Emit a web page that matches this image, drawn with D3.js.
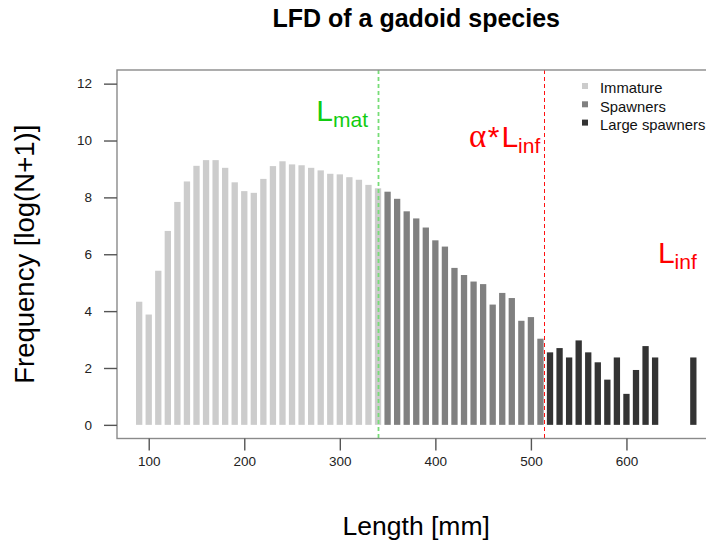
<!DOCTYPE html>
<html>
<head>
<meta charset="utf-8">
<script src="https://cdn.jsdelivr.net/npm/d3@7"></script>
<style>
  body { margin: 0; background: #ffffff; }
  svg { font-family: "Liberation Sans", Arial, sans-serif; }
</style>
</head>
<body>
<div id="chart"></div>
<script>
// length classes (mm) and log(N+1) frequencies
var immature_len = [90, 100, 110, 120, 130, 140, 150, 160, 170, 180, 190, 200, 210,
                    220, 230, 240, 250, 260, 270, 280, 290, 300, 310, 320, 330, 340];
var immature_val = [4.33, 3.88, 5.42, 6.82, 7.84, 8.56, 9.11, 9.31, 9.31, 9.04, 8.53, 8.22, 8.16,
                    8.65, 9.10, 9.27, 9.16, 9.13, 9.04, 8.95, 8.83, 8.81, 8.71, 8.62, 8.44, 8.32];
var spawner_len  = [350, 360, 370, 380, 390, 400, 410, 420, 430, 440, 450, 460, 470, 480, 490, 500, 510];
var spawner_val  = [8.20, 7.95, 7.51, 7.26, 6.94, 6.49, 6.27, 5.52, 5.27, 5.04, 4.95, 4.23, 4.64,
                    4.46, 3.66, 3.79, 3.03];
var large_len    = [520, 530, 540, 550, 560, 570, 580, 590, 600, 610, 620, 630, 670];
var large_val    = [2.55, 2.70, 2.37, 2.97, 2.55, 2.20, 1.59, 2.37, 1.09, 1.93, 2.77, 2.37, 2.37];

var group_names  = ["Immature", "Spawners", "Large spawners"];
var x_ticks      = [100, 200, 300, 400, 500, 600];
var y_ticks      = [0, 2, 4, 6, 8, 10, 12];

// reference lengths
var l_mat        = 340;
var alpha_l_inf  = 514;
var l_inf        = 683;

var group_colors = ["#cccccc", "#808080", "#333333"];

var width_chart  = 706;
var height_chart = 544;
var left_chart   = 117;
var right_chart  = 715.5;
var top_chart    = 70;
var bottom_chart = 438.5;

var groups_chart = [
  {len: immature_len, val: immature_val},
  {len: spawner_len,  val: spawner_val},
  {len: large_len,    val: large_val}
];

// R style 4% padding around the data range
var x_min = d3.min(immature_len), x_max = d3.max(large_len);
var x_pad = (x_max - x_min)*0.04;
var x_chart = d3.scaleLinear()
  .domain([x_min - x_pad, x_max + x_pad])
  .range([left_chart, right_chart]);
var y_chart = d3.scaleLinear()
  .domain([0 - 12*0.04, 12 + 12*0.04])
  .range([bottom_chart, top_chart]);

var svg_chart = d3.select("#chart").append("svg")
  .attr("width", width_chart)
  .attr("height", height_chart);

// bars
var bar_w = (x_chart(10) - x_chart(0))*0.66;
groups_chart.forEach(function (g, gi) {
  svg_chart.append("g")
    .selectAll("rect")
    .data(g.len)
    .enter().append("rect")
    .attr("x", function (d) { return x_chart(d) - bar_w/2; })
    .attr("width", bar_w)
    .attr("y", function (d, i) { return y_chart(g.val[i]); })
    .attr("height", function (d, i) { return y_chart(0) - y_chart(g.val[i]); })
    .style("fill", group_colors[gi]);
});

// reference lines
var ref_lines = [
  {v: l_mat,       color: "#77dd77", w: 1.8, dash: "4,3"},
  {v: alpha_l_inf, color: "#ff1111", w: 1,   dash: "4,3"},
  {v: l_inf,       color: "#f4aaaa", w: 1,   dash: "4,3"}
];
svg_chart.append("g")
  .selectAll("line")
  .data(ref_lines)
  .enter().append("line")
  .attr("x1", function (d) { return Math.round(x_chart(d.v)) + 0.5; })
  .attr("x2", function (d) { return Math.round(x_chart(d.v)) + 0.5; })
  .attr("y1", top_chart)
  .attr("y2", bottom_chart)
  .style("stroke", function (d) { return d.color; })
  .style("stroke-width", function (d) { return d.w; })
  .style("stroke-dasharray", function (d) { return d.dash; });

// box
svg_chart.append("rect")
  .attr("x", left_chart)
  .attr("y", top_chart)
  .attr("width", right_chart - left_chart)
  .attr("height", bottom_chart - top_chart)
  .style("fill", "none")
  .style("stroke", "#8a8a8a")
  .style("stroke-width", 1.4);

// axes
var axis_x = svg_chart.append("g")
  .attr("transform", "translate(0," + bottom_chart + ")")
  .call(d3.axisBottom(x_chart).tickValues(x_ticks).tickSize(12).tickPadding(6));
var axis_y = svg_chart.append("g")
  .attr("transform", "translate(" + left_chart + ",0)")
  .call(d3.axisLeft(y_chart).tickValues(y_ticks).tickSize(13).tickPadding(12));
[axis_x, axis_y].forEach(function (a) {
  a.select(".domain").remove();
  a.selectAll(".tick line").style("stroke", "#555").style("stroke-width", 1.4);
  a.selectAll(".tick text")
    .style("font-family", "Liberation Sans, Arial, sans-serif")
    .style("font-size", "13.5px")
    .style("fill", "#222");
});

// title and axis labels
svg_chart.append("text")
  .attr("x", (left_chart + right_chart)/2)
  .attr("y", 27)
  .attr("text-anchor", "middle")
  .style("font-size", "25px")
  .style("font-weight", "bold")
  .text("LFD of a gadoid species");
svg_chart.append("text")
  .attr("x", (left_chart + right_chart)/2)
  .attr("y", 535)
  .attr("text-anchor", "middle")
  .style("font-size", "26.5px")
  .text("Length [mm]");
svg_chart.append("text")
  .attr("transform", "translate(34," + (top_chart + bottom_chart)/2 + ") rotate(-90)")
  .attr("text-anchor", "middle")
  .style("font-size", "27.5px")
  .text("Frequency [log(N+1)]");

// annotations L_mat, alpha*L_inf, L_inf
var notes = [
  {v: l_mat,       y: 10.67, off: 10, pre: "",  sub: "mat", color: "#11cc11"},
  {v: alpha_l_inf, y: 9.76,  off: 4,  pre: "α", sub: "inf", color: "#ff0000"},
  {v: l_inf,       y: 5.69,  off: 9,  pre: "",  sub: "inf", color: "#ff0000"}
];
notes.forEach(function (n) {
  var t = svg_chart.append("text")
    .attr("x", x_chart(n.v) - n.off)
    .attr("y", y_chart(n.y))
    .attr("text-anchor", "end")
    .style("fill", n.color)
    .style("font-size", "30px");
  if (n.pre) {
    t.append("tspan").style("font-family", "Liberation Serif, serif").style("font-size", "33px").text(n.pre);
    t.append("tspan").attr("dx", 1.5).text("*");
    t.append("tspan").attr("dx", 2).text("L");
  } else {
    t.append("tspan").text("L");
  }
  t.append("tspan").attr("dy", 6).style("font-size", "21px").text(n.sub);
});

// legend
var legend = svg_chart.append("g")
  .selectAll("g")
  .data(group_names)
  .enter().append("g")
  .attr("transform", function (d, i) { return "translate(585," + (86 + i*18.3) + ")"; });
legend.append("rect")
  .attr("x", -3).attr("y", -3)
  .attr("width", 6).attr("height", 6)
  .style("fill", function (d, i) { return group_colors[i]; });
legend.append("text")
  .attr("x", 15)
  .attr("y", 7.3)
  .style("font-size", "14.8px")
  .style("fill", "#111")
  .text(function (d) { return d; });
</script>
</body>
</html>
